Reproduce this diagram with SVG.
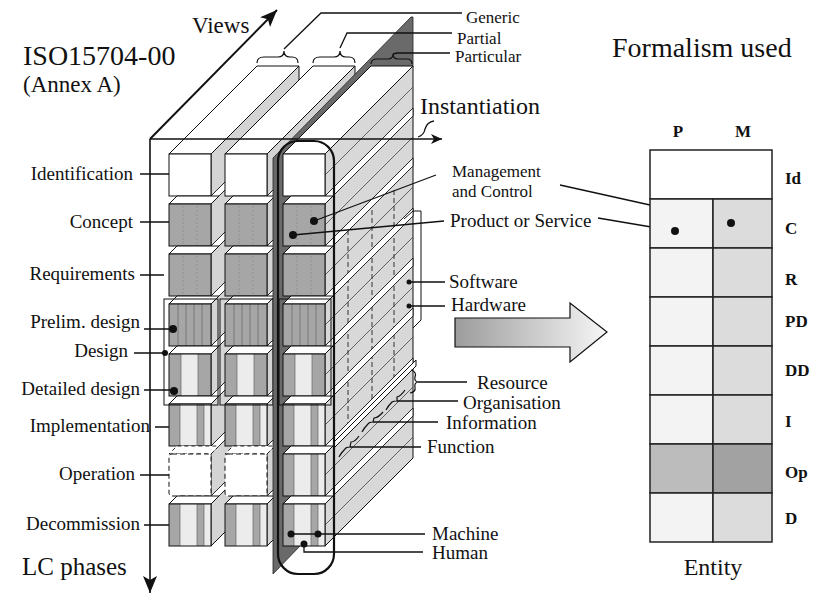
<svg xmlns="http://www.w3.org/2000/svg" xmlns:xlink="http://www.w3.org/1999/xlink" width="814" height="594" viewBox="0 0 814 594">
<style>
.t{font-family:"Liberation Serif","Times New Roman",serif;fill:#111}
.l{font-size:19px}
.e{text-anchor:end}
.big{font-size:28px}
.tb{font-size:17px;font-weight:bold}
.side{fill:#d4d4d4;stroke:#111;stroke-width:1}
.top{fill:#fff;stroke:#111;stroke-width:1}
.grv{fill:#fff;stroke:#111;stroke-width:0.9}
.dk{fill:#a6a6a6}
.lt{fill:#ececec}
.ol{fill:none;stroke:#111;stroke-width:1}
.fl{fill:none;stroke:#888;stroke-width:0.6;stroke-dasharray:2 2}
.fl2{fill:none;stroke:#666;stroke-width:0.7}
.thin{fill:none;stroke:#444;stroke-width:0.8}
.dsh{fill:none;stroke:#222;stroke-width:0.9;stroke-dasharray:5 3}
.dot{fill:#111}
.cell{stroke:#222;stroke-width:1.5}
</style>
<defs>
<marker id="ah" markerUnits="userSpaceOnUse" markerWidth="18" markerHeight="14" refX="17" refY="7" orient="auto">
<path d="M0,0 L17,7 L0,14 L4,7 z" fill="#111"/>
</marker>
<marker id="ahs" markerUnits="userSpaceOnUse" markerWidth="12" markerHeight="10" refX="11" refY="5" orient="auto">
<path d="M0,0 L11,5 L0,10 L3,5 z" fill="#111"/>
</marker>
<linearGradient id="ag" x1="0" y1="0" x2="1" y2="0">
<stop offset="0" stop-color="#9c9c9c"/>
<stop offset="1" stop-color="#f6f6f6"/>
</linearGradient>
<polygon id="groove" class="grv" points="0,-8 88,-96 88,-88 0,0"/>
<polygon id="btop" class="top" points="0,0 42,0 50,-8 8,-8"/>
<polygon id="btopd" points="0,0 42,0 50,-8 8,-8" fill="#fff" stroke="#111" stroke-width="0.9" stroke-dasharray="4 3"/>
<g id="bW"><rect width="42" height="42" fill="#fff" stroke="#111" stroke-width="1"/></g>
<g id="bDk"><rect width="42" height="42" class="dk"/><path d="M14,2V40M28,2V40" class="fl"/><rect width="42" height="42" class="ol"/></g>
<g id="bPre"><rect width="42" height="42" class="dk"/><path d="M9,0V42M17,0V42M25,0V42M33,0V42" class="fl2"/><rect width="42" height="42" class="ol"/></g>
<g id="bDet"><rect width="42" height="42" class="dk"/><rect x="12" width="17" height="42" class="lt"/><path d="M12,0V42M29,0V42" class="fl2"/><rect width="42" height="42" class="ol"/></g>
<g id="bStr"><rect width="42" height="42" class="dk"/><rect x="11" width="17" height="42" class="lt"/><rect x="35" width="7" height="42" class="lt"/><path d="M11,0V42M28,0V42M35,0V42" class="fl2"/><rect width="42" height="42" class="ol"/></g>
<g id="bDash"><rect width="42" height="42" rx="3" fill="#fff" stroke="#111" stroke-width="1" stroke-dasharray="5 3"/></g>
</defs>

<rect width="814" height="594" fill="#fff"/>

<g id="axes">
<line x1="150" y1="139" x2="277" y2="10" stroke="#111" stroke-width="2" marker-end="url(#ah)"/>
<line x1="150" y1="139" x2="150" y2="593" stroke="#111" stroke-width="1.6" marker-end="url(#ah)"/>
</g>

<g id="col-generic">
<polygon class="side" points="211,154 299,66 299,458 211,546"/>
<use xlink:href="#groove" x="211" y="204"/><use xlink:href="#groove" x="211" y="254"/><use xlink:href="#groove" x="211" y="304"/><use xlink:href="#groove" x="211" y="354"/><use xlink:href="#groove" x="211" y="404"/><use xlink:href="#groove" x="211" y="454"/><use xlink:href="#groove" x="211" y="504"/>
<polygon class="top" points="169,154 211,154 299,66 257,66"/>
<use xlink:href="#bW" x="169" y="154"/>
<use xlink:href="#btop" x="169" y="204"/><use xlink:href="#bDk" x="169" y="204"/>
<use xlink:href="#btop" x="169" y="254"/><use xlink:href="#bDk" x="169" y="254"/>
<use xlink:href="#btop" x="169" y="304"/><use xlink:href="#bPre" x="169" y="304"/>
<use xlink:href="#btop" x="169" y="354"/><use xlink:href="#bDet" x="169" y="354"/>
<use xlink:href="#btop" x="169" y="404"/><use xlink:href="#bStr" x="169" y="404"/>
<use xlink:href="#btopd" x="169" y="454"/><use xlink:href="#bDash" x="169" y="454"/>
<use xlink:href="#btop" x="169" y="504"/><use xlink:href="#bStr" x="169" y="504"/>
<rect x="164" y="299" width="54" height="106" class="ol"/>
</g>

<g id="col-partial">
<polygon class="side" points="267,154 355,66 355,458 267,546"/>
<use xlink:href="#groove" x="267" y="204"/><use xlink:href="#groove" x="267" y="254"/><use xlink:href="#groove" x="267" y="304"/><use xlink:href="#groove" x="267" y="354"/><use xlink:href="#groove" x="267" y="404"/><use xlink:href="#groove" x="267" y="454"/><use xlink:href="#groove" x="267" y="504"/>
<polygon class="top" points="225,154 267,154 355,66 313,66"/>
<use xlink:href="#bW" x="225" y="154"/>
<use xlink:href="#btop" x="225" y="204"/><use xlink:href="#bDk" x="225" y="204"/>
<use xlink:href="#btop" x="225" y="254"/><use xlink:href="#bDk" x="225" y="254"/>
<use xlink:href="#btop" x="225" y="304"/><use xlink:href="#bPre" x="225" y="304"/>
<use xlink:href="#btop" x="225" y="354"/><use xlink:href="#bDet" x="225" y="354"/>
<use xlink:href="#btop" x="225" y="404"/><use xlink:href="#bStr" x="225" y="404"/>
<use xlink:href="#btopd" x="225" y="454"/><use xlink:href="#bDash" x="225" y="454"/>
<use xlink:href="#btop" x="225" y="504"/><use xlink:href="#bStr" x="225" y="504"/>
<rect x="220" y="299" width="53" height="106" class="ol"/>
</g>

<g id="partition">
<polygon points="273,574 273,158 411,17 413,17 413,66 300,546" fill="#6a6a6a" stroke="#222" stroke-width="0.8"/>
</g>

<g id="col-particular">
<polygon class="side" points="325,154 413,66 413,458 325,546" style="fill:#d8d8d8"/>
<path class="thin" d="M325,175L413,87M325,225L413,137M325,275L413,187M325,325L413,237M325,375L413,287M325,425L413,337M325,475L413,387M325,525L413,437"/>
<path class="dsh" d="M348,230V428M372,210V407M394,190V386"/>
<use xlink:href="#groove" x="325" y="204"/><use xlink:href="#groove" x="325" y="254"/><use xlink:href="#groove" x="325" y="304"/><use xlink:href="#groove" x="325" y="354"/><use xlink:href="#groove" x="325" y="404"/><use xlink:href="#groove" x="325" y="454"/><use xlink:href="#groove" x="325" y="504"/>
<polygon points="416,360 416,366 334,448 334,442" fill="#fff" stroke="#111" stroke-width="1"/>
<path d="M404,219 L413,211 L421,211 L421,320 L413,328" fill="none" stroke="#111" stroke-width="1"/>
<polygon class="top" points="283,154 325,154 413,66 371,66"/>
<use xlink:href="#bW" x="283" y="154"/>
<use xlink:href="#btop" x="283" y="204"/><use xlink:href="#bDk" x="283" y="204"/>
<use xlink:href="#btop" x="283" y="254"/><use xlink:href="#bDk" x="283" y="254"/>
<use xlink:href="#btop" x="283" y="304"/><use xlink:href="#bPre" x="283" y="304"/>
<use xlink:href="#btop" x="283" y="354"/><use xlink:href="#bDet" x="283" y="354"/>
<use xlink:href="#btop" x="283" y="404"/><use xlink:href="#bStr" x="283" y="404"/>
<use xlink:href="#btop" x="283" y="454"/><use xlink:href="#bStr" x="283" y="454"/>
<use xlink:href="#btop" x="283" y="504"/><use xlink:href="#bStr" x="283" y="504"/>
<rect x="279" y="299" width="52" height="106" class="ol"/>
<rect x="278" y="141" width="56" height="433" rx="20" fill="none" stroke="#111" stroke-width="2.2"/>
</g>

<g id="braces" fill="none" stroke="#111" stroke-width="1.2">
<path d="M257,63 Q257,57 264,57 L278,57 Q284,57 284,51 Q284,57 290,57 L292,57 Q298,57 298,63"/>
<path d="M313,63 Q313,57 320,57 L334,57 Q340,57 340,51 Q340,57 346,57 L349,57 Q355,57 355,63"/>
<path d="M371,64 Q371,59 377,59 L388,59 Q393,59 393,54 Q393,59 398,59 L407,59 Q412,59 412,64"/>
<path d="M411,370 Q417,372 415,377 Q414,381 418,382 Q414,383 415,387 Q416,392 410,393"/>
<path d="M405,390 Q401,396 397,397 Q397,401 397,401 Q393,401 392,402 Q388,406 386,410"/>
<path d="M383,412 Q378,418 374,418 Q373,422 373,422 Q369,422 368,424 Q364,428 362,432"/>
<path d="M359,436 Q355,442 351,442 Q350,447 350,447 Q346,447 345,449 Q341,453 339,457"/>
</g>

<g id="connectors" fill="none" stroke="#111" stroke-width="1.3">
<line x1="150" y1="139" x2="442" y2="139" stroke-width="1.6" marker-end="url(#ahs)"/>
<path d="M418,137 Q424,135 425,129 Q427,122 434,121"/>
<path d="M284,49 L321,13 L462,13"/>
<path d="M340,48 L347,33 L452,33"/>
<path d="M393,54 L397,53 L450,53"/>
<path d="M140,174H169M140,222H169M140,275H164M144,329H173M134,353H165M144,390H174M155,427H169M140,475H169M144,525H169"/>
<path d="M314,221L436,175M293,235L444,221M409,282H445M409,306H445"/>
<path d="M418,382H467M397,401H458M373,422H438M350,447H421"/>
<path d="M291,534H425M304,544V552H423"/>
<path d="M560,185L731,223M598,218L675,231"/>
</g>

<g id="dots">
<circle class="dot" cx="173" cy="329" r="4"/>
<circle class="dot" cx="165" cy="353" r="3"/>
<circle class="dot" cx="174" cy="391" r="4"/>
<circle class="dot" cx="314" cy="221" r="4"/>
<circle class="dot" cx="293" cy="235" r="4"/>
<circle class="dot" cx="409" cy="282" r="2.5"/>
<circle class="dot" cx="409" cy="306" r="2.5"/>
<circle class="dot" cx="291" cy="534" r="3.5"/>
<circle class="dot" cx="318" cy="534" r="3.5"/>
<circle class="dot" cx="304" cy="544" r="3.5"/>
</g>

<g id="titles" class="t">
<text x="23" y="65" class="big">ISO15704-00</text>
<text x="23" y="92" style="font-size:23px">(Annex A)</text>
<text x="192" y="33" style="font-size:23px">Views</text>
<text x="22" y="575" style="font-size:25px">LC phases</text>
<text x="420" y="114" style="font-size:24px">Instantiation</text>
<text x="612" y="57" class="big">Formalism used</text>
<text x="713" y="575" style="font-size:24px;text-anchor:middle">Entity</text>
</g>

<g id="lc-labels" class="t l e">
<text x="133" y="180">Identification</text>
<text x="133" y="228">Concept</text>
<text x="135" y="280">Requirements</text>
<text x="140" y="328">Prelim. design</text>
<text x="128" y="357">Design</text>
<text x="140" y="395">Detailed design</text>
<text x="150" y="432">Implementation</text>
<text x="135" y="480">Operation</text>
<text x="140" y="530">Decommission</text>
</g>

<g id="view-labels" class="t l">
<text x="466" y="23" style="font-size:17px">Generic</text>
<text x="457" y="44" style="font-size:17px">Partial</text>
<text x="455" y="62" style="font-size:17px">Particular</text>
<text x="452" y="177" style="font-size:17px">Management</text>
<text x="452" y="197" style="font-size:17px">and Control</text>
<text x="450" y="227">Product or Service</text>
<text x="449" y="288">Software</text>
<text x="451" y="311">Hardware</text>
<text x="477" y="389">Resource</text>
<text x="463" y="409">Organisation</text>
<text x="446" y="429">Information</text>
<text x="427" y="453">Function</text>
<text x="432" y="540">Machine</text>
<text x="432" y="559">Human</text>
</g>

<g id="big-arrow">
<polygon points="455,318 570,318 570,303 607,332 570,362 570,347 455,347" fill="url(#ag)" stroke="#111" stroke-width="1.2"/>
</g>

<g id="table">
<rect class="cell" x="650" y="150" width="122" height="49" fill="#fff"/>
<rect class="cell" x="650" y="199" width="63" height="49" fill="#f3f3f3"/><rect class="cell" x="713" y="199" width="59" height="49" fill="#dcdcdc"/>
<rect class="cell" x="650" y="248" width="63" height="49" fill="#f3f3f3"/><rect class="cell" x="713" y="248" width="59" height="49" fill="#dcdcdc"/>
<rect class="cell" x="650" y="297" width="63" height="49" fill="#f3f3f3"/><rect class="cell" x="713" y="297" width="59" height="49" fill="#dcdcdc"/>
<rect class="cell" x="650" y="346" width="63" height="49" fill="#f3f3f3"/><rect class="cell" x="713" y="346" width="59" height="49" fill="#dcdcdc"/>
<rect class="cell" x="650" y="395" width="63" height="49" fill="#f3f3f3"/><rect class="cell" x="713" y="395" width="59" height="49" fill="#dcdcdc"/>
<rect class="cell" x="650" y="444" width="63" height="49" fill="#bcbcbc"/><rect class="cell" x="713" y="444" width="59" height="49" fill="#a2a2a2"/>
<rect class="cell" x="650" y="493" width="63" height="49" fill="#f3f3f3"/><rect class="cell" x="713" y="493" width="59" height="49" fill="#dcdcdc"/>
<circle class="dot" cx="731" cy="223" r="4"/>
<circle class="dot" cx="675" cy="231" r="4"/>
<g class="t tb">
<text x="678" y="137" text-anchor="middle">P</text>
<text x="743" y="137" text-anchor="middle">M</text>
<text x="785" y="184">Id</text>
<text x="785" y="234">C</text>
<text x="785" y="285">R</text>
<text x="785" y="327">PD</text>
<text x="785" y="376">DD</text>
<text x="785" y="427">I</text>
<text x="785" y="478">Op</text>
<text x="785" y="524">D</text>
</g>
</g>
</svg>
